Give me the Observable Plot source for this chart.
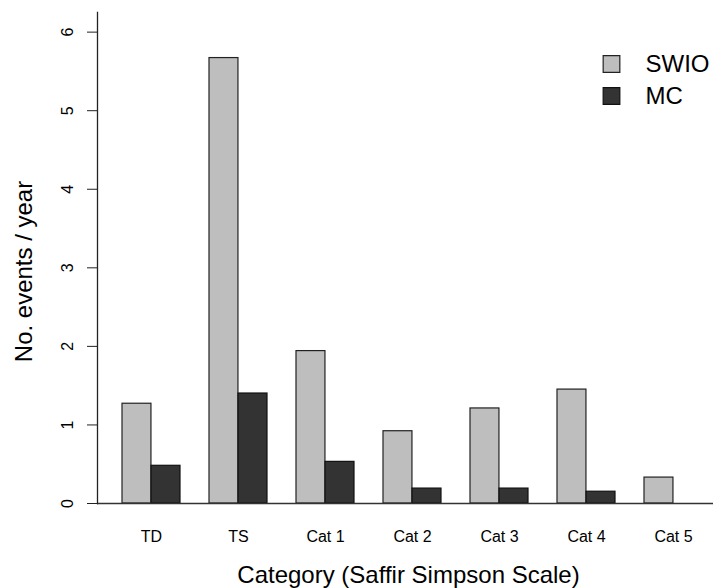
<!DOCTYPE html>
<html>
<head>
<meta charset="utf-8">
<script src="https://cdn.jsdelivr.net/npm/d3@7"></script>
<script src="https://cdn.jsdelivr.net/npm/@observablehq/plot@0.6"></script>
<style>
  html, body { margin: 0; padding: 0; background: #fff; }
  svg { font-family: "Liberation Sans", Arial, sans-serif; }
</style>
</head>
<body>
<div id="chart"></div>
<script>
const categories = ["TD", "TS", "Cat 1", "Cat 2", "Cat 3", "Cat 4", "Cat 5"];
const swio = [1.27, 5.67, 1.94, 0.92, 1.21, 1.45, 0.33];
const mc = [0.48, 1.40, 0.53, 0.19, 0.19, 0.15, 0];
const yTicks = [0, 1, 2, 3, 4, 5, 6];
const seriesNames = ["SWIO", "MC"];

const swioData = categories.map((c, i) => ({category: c, value: swio[i]}));
const mcData = categories.map((c, i) => ({category: c, value: mc[i]}));

const half = 29.05;
const font = "Liberation Sans, Arial, sans-serif";

const chart = Plot.plot({
  width: 713,
  height: 588,
  marginLeft: 97,
  marginRight: 0,
  marginTop: 12,
  marginBottom: 85,
  style: {fontFamily: font, background: "#fff", color: "#000"},
  x: {type: "band", domain: categories, paddingInner: 1/3, paddingOuter: 0.2, align: 0.683, axis: null},
  y: {domain: [0, 6.25], axis: null},
  marks: [
    Plot.barY(swioData, {x: "category", y: "value", fill: "#bebebe", stroke: "#222", strokeWidth: 1.2, insetRight: half}),
    Plot.barY(mcData, {x: "category", y: "value", fill: "#333333", stroke: "#111", strokeWidth: 1.2, insetLeft: half}),
    Plot.ruleY([0], {stroke: "#333", strokeWidth: 1.3}),
    Plot.frame({anchor: "left", stroke: "#222", strokeWidth: 1.3}),
    Plot.axisY({ticks: yTicks, tickSize: 10, tickFormat: () => "", label: null, stroke: "#222"}),
    Plot.text(yTicks, {y: d => d, text: d => String(d), frameAnchor: "left", dx: -30, rotate: -90, textAnchor: "middle", lineAnchor: "middle", fontSize: 16, fill: "#000"}),
    Plot.text(categories, {x: d => d, text: d => d, frameAnchor: "bottom", dy: 27.6, lineAnchor: "top", fontSize: 16, fill: "#000"}),
    Plot.text(["Category (Saffir Simpson Scale)"], {frameAnchor: "bottom", dx: 3, dy: 72, lineAnchor: "middle", fontSize: 24, fill: "#000"}),
    Plot.text(["No. events / year"], {frameAnchor: "left", dx: -73, dy: 13.5, rotate: -90, lineAnchor: "middle", textAnchor: "middle", fontSize: 24, fill: "#000"}),
    Plot.dot([seriesNames[0]], {frameAnchor: "top-right", dx: -102, dy: 51.5, symbol: "square", r: 9.4, fill: "#bebebe", stroke: "#222", strokeWidth: 1.2}),
    Plot.dot([seriesNames[1]], {frameAnchor: "top-right", dx: -102, dy: 83.5, symbol: "square", r: 9.4, fill: "#333333", stroke: "#111", strokeWidth: 1.2}),
    Plot.text([seriesNames[0]], {frameAnchor: "top-right", dx: -68, dy: 52, textAnchor: "start", lineAnchor: "middle", fontSize: 24, fill: "#000"}),
    Plot.text([seriesNames[1]], {frameAnchor: "top-right", dx: -68, dy: 84, textAnchor: "start", lineAnchor: "middle", fontSize: 24, fill: "#000"})
  ]
});
document.getElementById("chart").appendChild(chart);
</script>
</body>
</html>
